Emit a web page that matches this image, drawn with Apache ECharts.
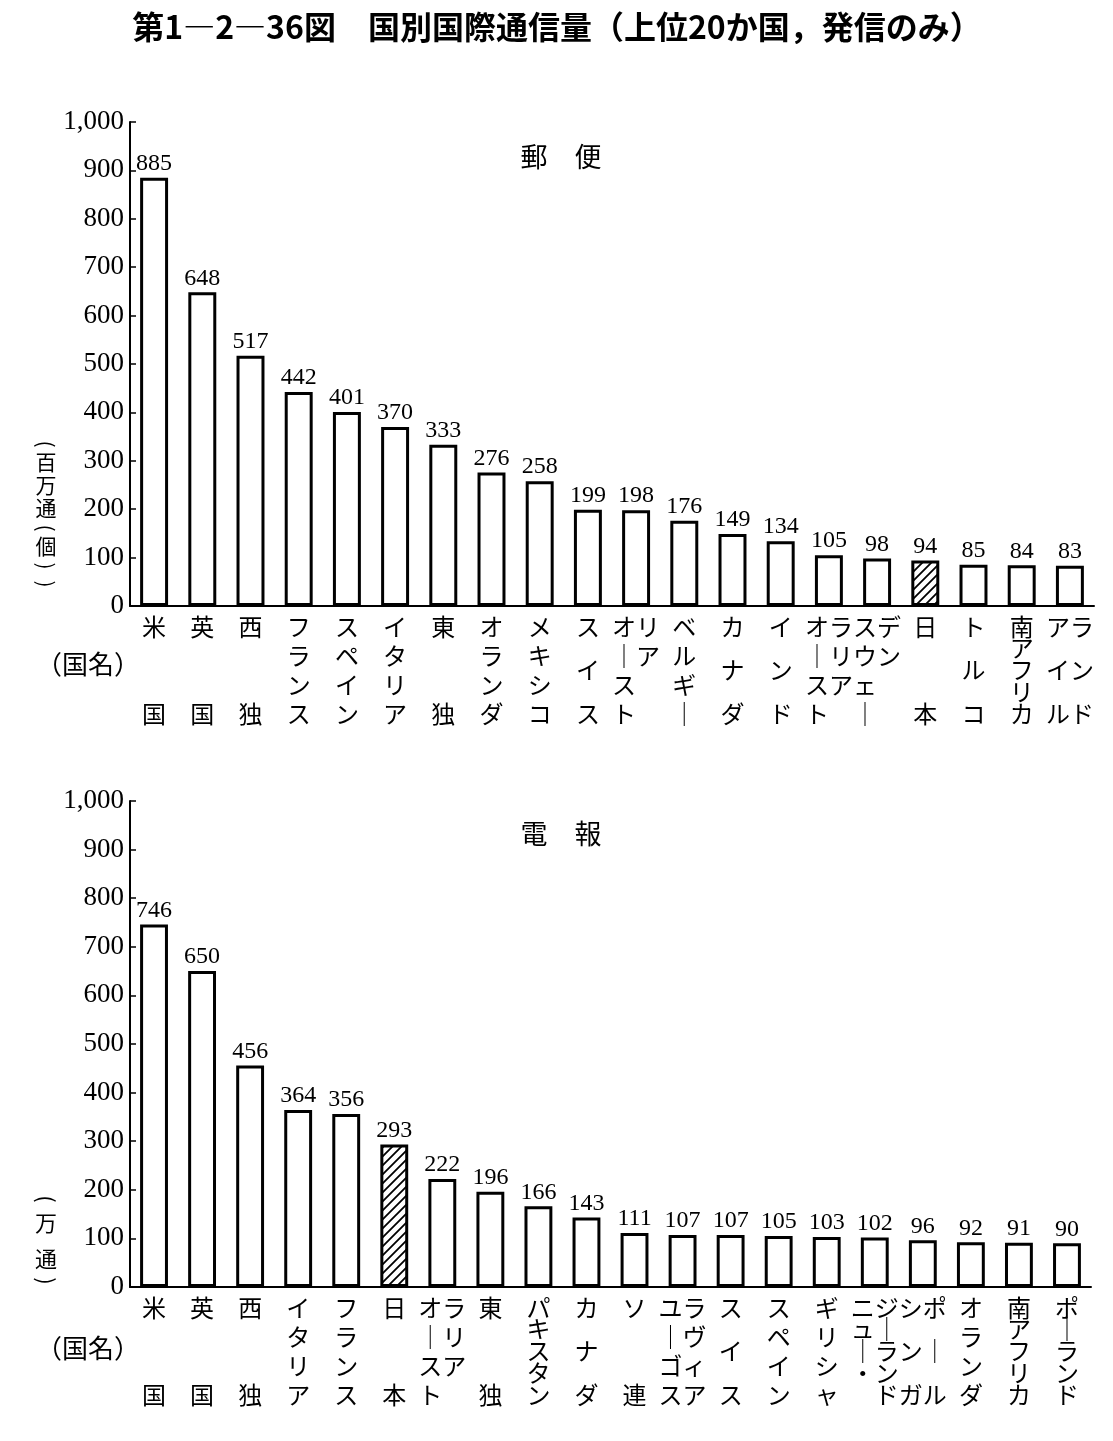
<!DOCTYPE html>
<html>
<head>
<meta charset="utf-8">
<title>国別国際通信量</title>
<script src="https://cdn.jsdelivr.net/npm/echarts@6/dist/echarts.min.js"></script>
<style>
  html, body { margin: 0; padding: 0; background: #fff; }
  #chart { width: 1113px; height: 1441px; }
</style>
</head>
<body>
<div id="chart"></div>
<script>
// 郵便（百万通(個)）
var postCountries = ['米国', '英国', '西独', 'フランス', 'スペイン', 'イタリア', '東独', 'オランダ', 'メキシコ', 'スイス',
  'オーストリア', 'ベルギー', 'カナダ', 'インド', 'オーストラリア', 'スウェーデン', '日本', 'トルコ', '南アフリカ', 'アイルランド'];
var postValues = [885, 648, 517, 442, 401, 370, 333, 276, 258, 199, 198, 176, 149, 134, 105, 98, 94, 85, 84, 83];

// 電報（万通）
var telegramCountries = ['米国', '英国', '西独', 'イタリア', 'フランス', '日本', 'オーストラリア', '東独', 'パキスタン', 'カナダ',
  'ソ連', 'ユーゴスラヴィア', 'スイス', 'スペイン', 'ギリシャ', 'ニュージーランド', 'シンガポール', 'オランダ', '南アフリカ', 'ポーランド'];
var telegramValues = [746, 650, 456, 364, 356, 293, 222, 196, 166, 143, 111, 107, 107, 105, 103, 102, 96, 92, 91, 90];

var yMax = 1000, yStep = 100;
var highlight = '日本';

// 縦書きで2列になる国名（左列, 右列）
var twoColumns = {
  'オーストリア': ['オースト', 'リア'],
  'オーストラリア': ['オースト', 'ラリア'],
  'スウェーデン': ['スウェー', 'デン'],
  'アイルランド': ['アイル', 'ランド'],
  'ユーゴスラヴィア': ['ユーゴス', 'ラヴィア'],
  'ニュージーランド': ['ニュー・', 'ジーランド'],
  'シンガポール': ['シンガ', 'ポール']
};

var JP = '"Noto Sans CJK JP", sans-serif';
var NUM = '"Liberation Serif", "DejaVu Serif", serif';
var L = 29; // 行の高さ

// 1行目を上端、最終行を下端(4行目)にそろえる行高
function rowHeights(n) {
  var d = 3 * L / (n - 1), b = 0, hs = [];
  for (var i = 0; i < n; i++) {
    var c = 0.5 * L + i * d;
    var h = 2 * (c - b);
    hs.push(h);
    b += h;
  }
  return hs;
}

var rich = {};
function key(h) { return 'k' + Math.round(h * 10); }
[2, 3, 4, 5].forEach(function (n) {
  rowHeights(n).forEach(function (h) {
    rich[key(h)] = { lineHeight: h, fontSize: 24, fontFamily: JP, color: '#000' };
  });
});

function vert(s) { return s.replace(/ー/g, '｜'); }

function labelText(name) {
  var rows;
  if (twoColumns[name]) {
    var a = Array.from(twoColumns[name][0]), b = Array.from(twoColumns[name][1]);
    var n = Math.max(a.length, b.length);
    rows = [];
    for (var i = 0; i < n; i++) rows.push((a[i] || '　') + (b[i] || '　'));
  } else {
    rows = Array.from(name);
  }
  var hs = rowHeights(rows.length);
  return rows.map(function (r, i) { return '{' + key(hs[i]) + '|' + vert(r) + '}'; }).join('\n');
}

function hatch() {
  var c = document.createElement('canvas');
  c.width = 9; c.height = 9;
  var g = c.getContext('2d');
  g.fillStyle = '#fff';
  g.fillRect(0, 0, 9, 9);
  g.strokeStyle = '#000';
  g.lineWidth = 1.8;
  g.beginPath();
  g.moveTo(-2, 11); g.lineTo(11, -2);
  g.moveTo(-7, 7); g.lineTo(7, -7);
  g.moveTo(2, 16); g.lineTo(16, 2);
  g.stroke();
  return c;
}
var hatchPattern = { image: hatch(), repeat: 'repeat' };

function barData(names, values) {
  return values.map(function (v, i) {
    if (names[i] === highlight) {
      return { value: v, itemStyle: { color: hatchPattern } };
    }
    return v;
  });
}

function xAxisOf(idx, names) {
  return {
    type: 'category',
    gridIndex: idx,
    data: names,
    axisLine: { lineStyle: { color: '#000', width: 2 } },
    axisTick: { show: false },
    axisLabel: {
      interval: 0,
      margin: 6,
      color: '#000',
      fontSize: 24,
      fontFamily: JP,
      formatter: labelText,
      rich: rich
    }
  };
}

function yAxisOf(idx) {
  return {
    type: 'value',
    gridIndex: idx,
    min: 0,
    max: yMax,
    interval: yStep,
    splitLine: { show: false },
    axisLine: { show: true, lineStyle: { color: '#000', width: 2 } },
    axisTick: { show: true, inside: true, length: 6, lineStyle: { color: '#000', width: 1.5 } },
    axisLabel: {
      margin: 6,
      color: '#000',
      fontSize: 27,
      fontFamily: NUM,
      formatter: function (v) { return v >= 1000 ? Math.floor(v / 1000) + ',' + String(v % 1000).padStart(3, '0') : String(v); }
    }
  };
}

function seriesOf(idx, names, values) {
  return {
    type: 'bar',
    xAxisIndex: idx,
    yAxisIndex: idx,
    barWidth: '58%',
    data: barData(names, values),
    itemStyle: { color: '#fff', borderColor: '#000', borderWidth: 3 },
    label: {
      show: true,
      position: 'top',
      distance: 2,
      color: '#000',
      fontSize: 24,
      fontFamily: NUM
    },
    emphasis: { disabled: true }
  };
}

function txt(text, x, y, size, opts) {
  opts = opts || {};
  return {
    type: 'text',
    x: x,
    y: y,
    rotation: opts.rotation || 0,
    style: {
      text: text,
      fill: '#000',
      fontSize: size,
      fontFamily: JP,
      fontWeight: opts.bold ? 'bold' : 'normal',
      align: 'center',
      textAlign: 'center',
      verticalAlign: opts.middle ? 'middle' : 'top',
      textVerticalAlign: opts.middle ? 'middle' : 'top'
    }
  };
}

// 縦書きの単位：1字ずつ置き、括弧は回転させる
function vtext(chars, x, ys, size) {
  return chars.map(function (ch, i) {
    var paren = ch === '(' || ch === ')';
    return txt(ch, x, ys[i], size, { middle: true, rotation: paren ? -Math.PI / 2 : 0 });
  });
}

var myChart = echarts.init(document.getElementById('chart'), null, { renderer: 'canvas' });

var option = {
  backgroundColor: '#fff',
  animation: false,
  grid: [
    { left: 130, right: 19, top: 122, bottom: 835 },
    { left: 130, right: 22, top: 801, bottom: 154 }
  ],
  xAxis: [xAxisOf(0, postCountries), xAxisOf(1, telegramCountries)],
  yAxis: [yAxisOf(0), yAxisOf(1)],
  series: [seriesOf(0, postCountries, postValues), seriesOf(1, telegramCountries, telegramValues)],
  graphic: [
    txt('第1―2―36図　国別国際通信量（上位20か国，発信のみ）', 557, 11, 32, { bold: true }),
    txt('郵　便', 561, 143, 27),
    txt('電　報', 561, 820, 27),
    txt('（国名）', 88, 651, 26),
    txt('（国名）', 88, 1335, 26)
  ]
    .concat(vtext(['(', '百', '万', '通', '(', '個', ')', ')'], 46, [444, 462, 485, 508, 528, 546, 566, 584], 21))
    .concat(vtext(['(', '万', '通', ')'], 46, [1199, 1223, 1259, 1281], 22))
};

myChart.setOption(option);
</script>
</body>
</html>
